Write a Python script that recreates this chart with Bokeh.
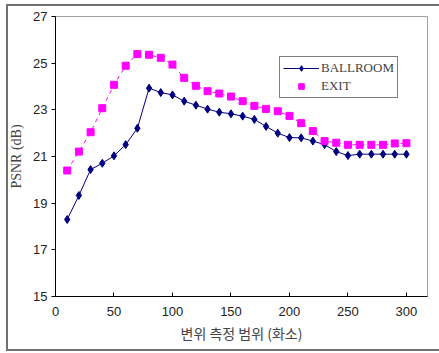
from bokeh.plotting import figure
from bokeh.models import Legend, LegendItem, FixedTicker, Range1d
from bokeh.embed import file_html
from bokeh.resources import INLINE

x_vals = [10, 20, 30, 40, 50, 60, 70, 80, 90, 100, 110, 120, 130, 140, 150,
          160, 170, 180, 190, 200, 210, 220, 230, 240, 250, 260, 270, 280, 290, 300]
ballroom = [18.3, 19.33, 20.44, 20.71, 21.03, 21.51, 22.21, 23.93, 23.74, 23.64,
            23.37, 23.2, 23.03, 22.9, 22.83, 22.73, 22.59, 22.29, 22.0, 21.81,
            21.8, 21.66, 21.51, 21.21, 21.04, 21.1, 21.1, 21.1, 21.1, 21.1]
exit_vals = [20.4, 21.21, 22.04, 23.07, 24.07, 24.89, 25.39, 25.36, 25.23, 24.94,
             24.37, 24.03, 23.8, 23.7, 23.57, 23.37, 23.17, 23.04, 22.94, 22.74,
             22.43, 22.09, 21.66, 21.59, 21.5, 21.5, 21.5, 21.5, 21.56, 21.57]
x_ticks = [0, 50, 100, 150, 200, 250, 300]
y_ticks = [15, 17, 19, 21, 23, 25, 27]

border_col = "#707070"
page_styles = {
    "background": (f"linear-gradient({border_col},{border_col}) 6px 4px / 2px 341px no-repeat, "
                   f"linear-gradient({border_col},{border_col}) 6px 4px / 425px 2px no-repeat, white"),
    "box-shadow": (f"436px 5px 0 -1px white, 7px 5px 0 -1px white, "
                   f"7px 5px 0 1px {border_col}"),
}

p = figure(width=431, height=345, output_backend="svg", toolbar_location=None,
           x_range=Range1d(0, 318), y_range=Range1d(15, 27),
           min_border_left=55, min_border_top=16, min_border_right=4, min_border_bottom=49,
           styles=page_styles)
p.xgrid.visible = False
p.ygrid.visible = False
p.background_fill_color = "white"
p.border_fill_alpha = 0
p.outline_line_color = "#a0a0a0"
p.outline_line_width = 1

p.xaxis.ticker = FixedTicker(ticks=x_ticks)
p.yaxis.ticker = FixedTicker(ticks=y_ticks)
for ax in (p.xaxis[0], p.yaxis[0]):
    ax.axis_line_color = "black"
    ax.major_tick_line_color = "black"
    ax.minor_tick_line_color = None
    ax.major_label_text_font = "Liberation Sans"
    ax.major_label_text_font_size = "13px"
    ax.major_label_text_color = "#222222"
p.xaxis.major_tick_in = 4
p.xaxis.major_tick_out = 0
p.xaxis.major_label_standoff = 10
p.yaxis.major_tick_in = 0
p.yaxis.major_tick_out = 4
p.yaxis.major_label_standoff = 4

p.xaxis.axis_label = "변위 측정 범위 (화소)"
p.xaxis.axis_label_text_font = "Noto Sans CJK KR"
p.xaxis.axis_label_text_font_size = "14px"
p.xaxis.axis_label_text_font_style = "normal"
p.xaxis.axis_label_standoff = 4
p.yaxis.axis_label = "PSNR (dB)"
p.yaxis.axis_label_text_font = "Liberation Serif"
p.yaxis.axis_label_text_font_size = "14px"
p.yaxis.axis_label_text_font_style = "normal"
p.yaxis.axis_label_standoff = 6

bl = p.line(x_vals, ballroom, line_color="#000080", line_width=1)
bm = p.scatter(x_vals, ballroom, marker="diamond", size=8, fill_color="#000080",
               line_color="#000080")
el = p.line(x_vals, exit_vals, line_color="#FF00FF", line_width=1, line_dash="4 4")
em = p.scatter(x_vals, exit_vals, marker="square", size=7, fill_color="#FF00FF",
               line_color="#FF00FF")

legend = Legend(items=[LegendItem(label="BALLROOM", renderers=[bl, bm]),
                       LegendItem(label="EXIT", renderers=[em])],
                location=(224, 198))
legend.label_text_font = "Liberation Serif"
legend.label_text_font_size = "13px"
legend.border_line_color = "black"
legend.border_line_width = 1
legend.glyph_width = 36
legend.glyph_height = 14
legend.label_height = 14
legend.spacing = 2
legend.padding = 3
legend.margin = 0
legend.label_standoff = 2
p.add_layout(legend)

open("out.html", "w").write(file_html(p, INLINE))
